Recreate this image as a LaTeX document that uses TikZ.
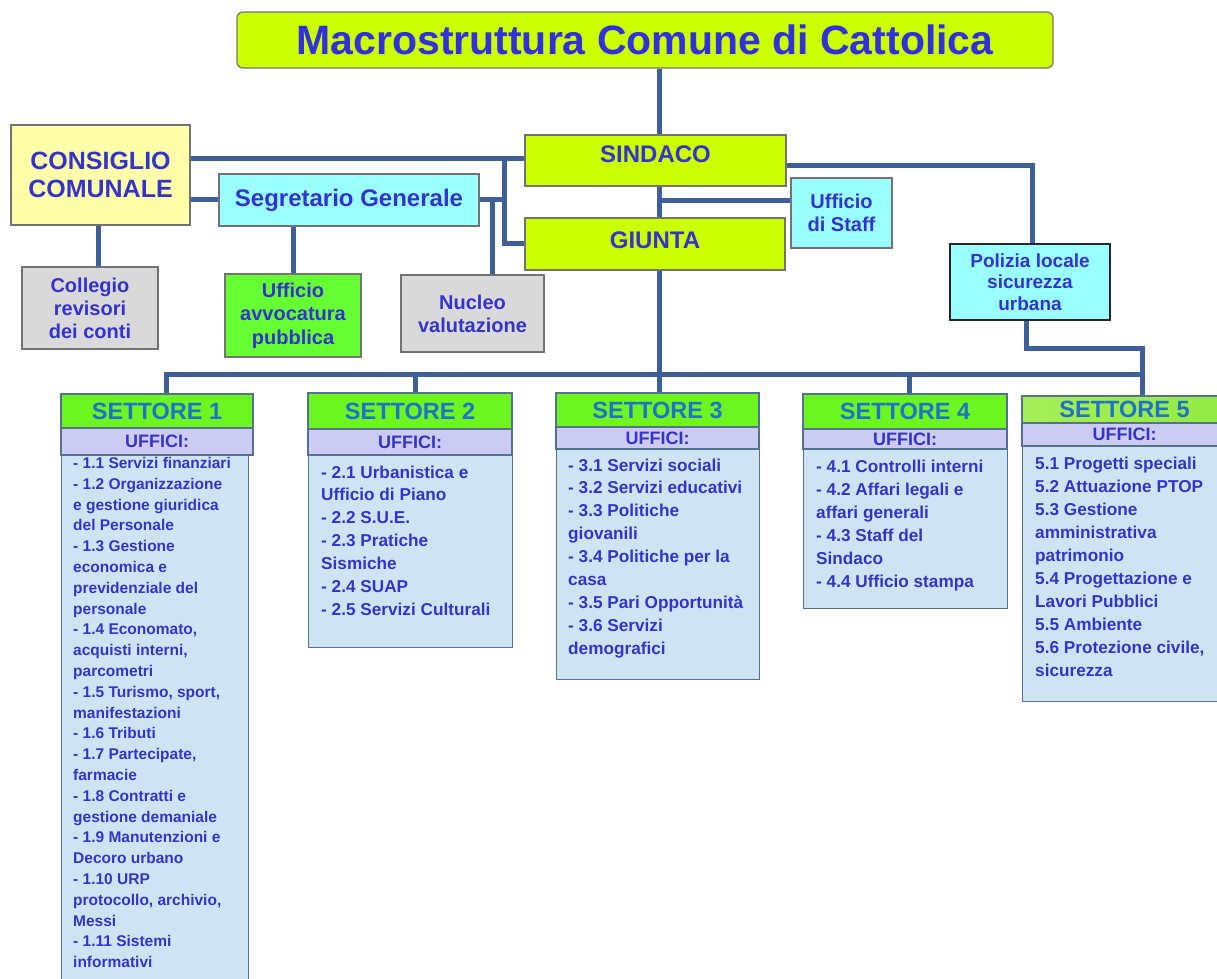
\documentclass[tikz,border=0pt]{standalone}
\usepackage{fontspec}
\setmainfont{Liberation Sans}
\usetikzlibrary{calc}
\definecolor{lineblue}{HTML}{3E5F98}
\definecolor{txtblue}{HTML}{3434CC}
\definecolor{ttlblue}{HTML}{3030DC}
\definecolor{ygreen}{HTML}{CCFF00}
\definecolor{lyellow}{HTML}{FFFFAA}
\definecolor{lcyan}{HTML}{99FFFF}
\definecolor{lgray}{HTML}{D9D9D9}
\definecolor{bgreen}{HTML}{66FF33}
\definecolor{hgreen}{HTML}{6CF520}
\definecolor{hgreenA}{HTML}{A6EE58}
\definecolor{hgreenB}{HTML}{92EA42}
\definecolor{lav}{HTML}{CCCCF2}
\definecolor{lblue}{HTML}{CFE4F2}
\definecolor{setblue}{HTML}{1F72C8}
\definecolor{setborder}{HTML}{56708F}
\begin{document}
\begin{tikzpicture}[x=1pt,y=-1pt,
  box/.style={draw=gray!90!black, line width=1.2pt, align=center, inner sep=0pt, text=txtblue,
    font=\bfseries\fontsize{20}{23}\selectfont},
  conn/.style={draw=lineblue, line width=5pt, line join=miter},
  shead/.style={draw=setborder, line width=1.3pt, fill=hgreen, inner sep=0pt, text=setblue,
    font=\bfseries\fontsize{23.5}{26}\selectfont},
  sband/.style={draw=setborder, line width=1.3pt, fill=lav, inner sep=0pt, text=txtblue,
    font=\bfseries\fontsize{18}{20}\selectfont},
  sbody/.style={draw=setborder, line width=1.3pt, fill=lblue, inner sep=0pt, anchor=north west},
  stext/.style={anchor=base west, inner sep=0pt, text=txtblue, font=\bfseries}
]
\useasboundingbox[fill=white] (0,0) rectangle (1217,978);

% top boxes
\node[box, fill=ygreen, rounded corners=6pt, minimum width=816pt, minimum height=56pt, text=ttlblue,
  font=\bfseries\fontsize{41}{48}\selectfont] (title) at (645,40) {Macrostruttura Comune di Cattolica};
\node[box, fill=ygreen, minimum width=261pt, minimum height=51pt, text depth=12pt, font=\bfseries\fontsize{24}{28}\selectfont] (sindaco) at (655.5,160.5) {SINDACO};
\node[box, fill=ygreen, minimum width=260pt, minimum height=52pt, text depth=7pt, font=\bfseries\fontsize{24}{28}\selectfont] (giunta) at (655,244) {GIUNTA};
\node[box, fill=lcyan, minimum width=101pt, minimum height=70pt] (staff) at (841.5,213) {Ufficio\\di Staff};
\node[box, fill=lcyan, draw=black!85, minimum width=160pt, minimum height=76pt, font=\bfseries\fontsize{19}{21.5}\selectfont] (polizia) at (1030,282) {Polizia locale\\sicurezza\\urbana};
\node[box, fill=lyellow, minimum width=179pt, minimum height=100pt, font=\bfseries\fontsize{25}{28}\selectfont] (consiglio) at (100.5,175) {CONSIGLIO\\COMUNALE};
\node[box, fill=lcyan, minimum width=260pt, minimum height=52pt, font=\bfseries\fontsize{24}{28}\selectfont] (segretario) at (349,200) {Segretario Generale};
\node[box, fill=lgray, minimum width=136pt, minimum height=82pt] (collegio) at (90,308) {Collegio\\revisori\\dei conti};
\node[box, fill=bgreen, minimum width=136pt, minimum height=83pt, font=\bfseries\fontsize{20}{23.5}\selectfont] (avvocatura) at (293,315.5) {Ufficio\\avvocatura\\pubblica};
\node[box, fill=lgray, minimum width=143pt, minimum height=77pt] (nucleo) at (472.5,313.5) {Nucleo\\valutazione};

% settore 1
\node[sbody, minimum width=187pt, minimum height=540pt] (s1b) at (61,455) {};
\node[shead, minimum width=192pt, minimum height=34pt] (s1) at (157,411) {SETTORE 1};
\node[sband, minimum width=192pt, minimum height=27pt] (s1u) at (157,441.5) {UFFICI:};
\node[stext] (s1t) at (73,468.4) {\begin{minipage}[t]{172pt}\bfseries\fontsize{15.5}{20.8}\selectfont\raggedright
- 1.1 Servizi finanziari\\
- 1.2 Organizzazione\\
e gestione giuridica\\
del Personale\\
- 1.3 Gestione\\
economica e\\
previdenziale del\\
personale\\
- 1.4 Economato,\\
acquisti interni,\\
parcometri\\
- 1.5 Turismo, sport,\\
manifestazioni\\
- 1.6 Tributi\\
- 1.7 Partecipate,\\
farmacie\\
- 1.8 Contratti e\\
gestione demaniale\\
- 1.9 Manutenzioni e\\
Decoro urbano\\
- 1.10 URP\\
protocollo, archivio,\\
Messi\\
- 1.11 Sistemi\\
informativi\end{minipage}};

% settore 2
\node[sbody, minimum width=204pt, minimum height=192pt] (s2b) at (308,455) {};
\node[shead, minimum width=204pt, minimum height=36pt] (s2) at (410,411) {SETTORE 2};
\node[sband, minimum width=204pt, minimum height=26pt] (s2u) at (410,442) {UFFICI:};
\node[stext] (s2t) at (321,478) {\begin{minipage}[t]{190pt}\bfseries\fontsize{17.2}{22.9}\selectfont\raggedright
- 2.1 Urbanistica e\\
Ufficio di Piano\\
- 2.2 S.U.E.\\
- 2.3 Pratiche\\
Sismiche\\
- 2.4 SUAP\\
- 2.5 Servizi Culturali\end{minipage}};

% settore 3
\node[sbody, minimum width=203pt, minimum height=230pt] (s3b) at (556,449) {};
\node[shead, minimum width=203pt, minimum height=34pt] (s3) at (657.5,410) {SETTORE 3};
\node[sband, minimum width=203pt, minimum height=22pt] (s3u) at (657.5,438) {UFFICI:};
\node[stext] (s3t) at (568,471) {\begin{minipage}[t]{190pt}\bfseries\fontsize{17.2}{22.9}\selectfont\raggedright
- 3.1 Servizi sociali\\
- 3.2 Servizi educativi\\
- 3.3 Politiche\\
giovanili\\
- 3.4 Politiche per la\\
casa\\
- 3.5 Pari Opportunità\\
- 3.6 Servizi\\
demografici\end{minipage}};

% settore 4
\node[sbody, minimum width=204pt, minimum height=159pt] (s4b) at (803,449) {};
\node[shead, minimum width=204pt, minimum height=35pt] (s4) at (905,411.5) {SETTORE 4};
\node[sband, minimum width=204pt, minimum height=20pt] (s4u) at (905,439) {UFFICI:};
\node[stext] (s4t) at (816,472) {\begin{minipage}[t]{190pt}\bfseries\fontsize{17.2}{23}\selectfont\raggedright
- 4.1 Controlli interni\\
- 4.2 Affari legali e\\
affari generali\\
- 4.3 Staff del\\
Sindaco\\
- 4.4 Ufficio stampa\end{minipage}};

% settore 5
\node[sbody, minimum width=205pt, minimum height=255pt] (s5b) at (1022,446) {};
\node[shead, left color=hgreenA, right color=hgreenB, minimum width=205pt, minimum height=27pt] (s5) at (1124.5,409.5) {SETTORE 5};
\node[sband, minimum width=205pt, minimum height=23pt] (s5u) at (1124.5,434.5) {UFFICI:};
\node[stext] (s5t) at (1035,469) {\begin{minipage}[t]{190pt}\bfseries\fontsize{17.2}{23}\selectfont\raggedright
5.1 Progetti speciali\\
5.2 Attuazione PTOP\\
5.3 Gestione\\
amministrativa\\
patrimonio\\
5.4 Progettazione e\\
Lavori Pubblici\\
5.5 Ambiente\\
5.6 Protezione civile,\\
sicurezza\end{minipage}};

% connectors
\coordinate (spine) at (659,0);
\coordinate (jc) at (504,158);
\coordinate (jg) at (504,243);
\coordinate (js) at (504,199);
\coordinate (jn) at (492,199);
\coordinate (xc) at (98,0);
\coordinate (jst) at (659,200);
\coordinate (jp) at (1032,165);
\coordinate (pb) at (1026,348);
\coordinate (pc) at (1142,348);
\coordinate (bus1) at (166,374);
\coordinate (bus5) at (1142,374);
\coordinate (b2) at (415,374);
\coordinate (b4) at (909,374);

\draw[conn] (spine |- title.south) -- (spine |- sindaco.north);
\draw[conn] (consiglio.east |- jc) -- (sindaco.west |- jc);
\draw[conn] (jc) -- (jg) -- (giunta.west |- jg);
\draw[conn] (consiglio.east |- js) -- (segretario.west |- js);
\draw[conn] (segretario.east |- js) -- (js);
\draw[conn] (jn) -- (jn |- nucleo.north);
\draw[conn] (xc |- consiglio.south) -- (xc |- collegio.north);
\draw[conn] (segretario.south -| avvocatura.north) -- (avvocatura.north);
\draw[conn] (spine |- sindaco.south) -- (spine |- giunta.north);
\draw[conn] (jst) -- (staff.west |- jst);
\draw[conn] (sindaco.east |- jp) -- (jp) -- (jp |- polizia.north);
\draw[conn] (pb |- polizia.south) -- (pb) -- (pc) -- (pc |- s5.north);
\draw[conn] (bus1 |- s1.north) -- (bus1) -- (bus5);
\draw[conn] (spine |- giunta.south) -- (spine |- s3.north);
\draw[conn] (b2) -- (b2 |- s2.north);
\draw[conn] (b4) -- (b4 |- s4.north);
\end{tikzpicture}
\end{document}
